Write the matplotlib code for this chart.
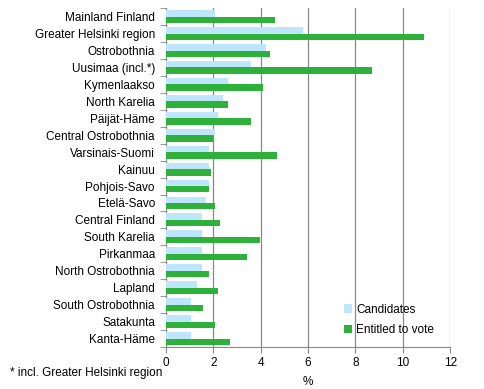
import numpy as np
import matplotlib.pyplot as plt

plt.rcParams['font.family'] = ['Liberation Sans', 'DejaVu Sans']

regions = ['Mainland Finland', 'Greater Helsinki region', 'Ostrobothnia', 'Uusimaa (incl.*)',
           'Kymenlaakso', 'North Karelia', 'Päijät-Häme', 'Central Ostrobothnia',
           'Varsinais-Suomi', 'Kainuu', 'Pohjois-Savo', 'Etelä-Savo', 'Central Finland',
           'South Karelia', 'Pirkanmaa', 'North Ostrobothnia', 'Lapland',
           'South Ostrobothnia', 'Satakunta', 'Kanta-Häme']
candidates = [2.09, 5.78, 4.21, 3.58, 2.60, 2.39, 2.18, 2.09, 1.80, 1.80,
              1.80, 1.67, 1.50, 1.50, 1.50, 1.50, 1.29, 1.07, 1.07, 1.07]
entitled = [4.59, 10.91, 4.38, 8.71, 4.08, 2.60, 3.58, 1.99, 4.68, 1.88,
            1.80, 2.09, 2.30, 3.99, 3.41, 1.80, 2.18, 1.58, 2.09, 2.69]

fig = plt.figure(figsize=(4.84, 3.89), dpi=100)
ax = fig.add_axes([0.343, 0.108, 0.587, 0.871])

y = np.arange(len(regions))
h = 0.38
ax.barh(y - h / 2, candidates, height=h, color='#bde5fb', label='Candidates', zorder=3)
ax.barh(y + h / 2, entitled, height=h, color='#2eb13a', label='Entitled to vote', zorder=3)

ax.set_ylim(len(regions) - 0.5, -0.5)
ax.set_xlim(0, 12)
ax.set_xticks(np.arange(0, 13, 2))
ax.set_yticks(y)
ax.set_yticklabels(regions, fontsize=8.5)
ax.set_yticks(np.arange(-0.5, len(regions), 1), minor=True)
ax.tick_params(axis='y', which='major', length=0, pad=8)
ax.tick_params(axis='y', which='minor', length=4, color='#888888')
ax.tick_params(axis='x', length=4, color='#888888', labelsize=8.5, pad=3)
ax.grid(axis='x', color='#888888', linewidth=0.9, zorder=0)
for s in ['top', 'right']:
    ax.spines[s].set_visible(False)
for s in ['left', 'bottom']:
    ax.spines[s].set_color('#888888')

ax.set_xlabel('%', fontsize=8.5, labelpad=5)
fig.text(0.021, 0.041, '* incl. Greater Helsinki region', fontsize=8.5, va='center')

ax.legend(loc='lower right', bbox_to_anchor=(0.98, 0.0), frameon=False, fontsize=8.5,
          handlelength=0.7, handleheight=0.7, handletextpad=0.3, labelspacing=0.75)

fig.savefig('out.png')
